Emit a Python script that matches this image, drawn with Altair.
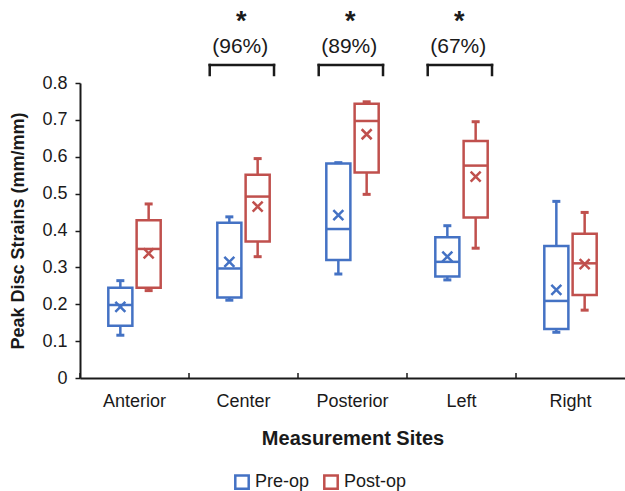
import altair as alt
import pandas as pd

sites = ["Anterior", "Center", "Posterior", "Left", "Right"]
groups = ["Pre-op", "Post-op"]

pre_min = [0.116, 0.211, 0.282, 0.266, 0.124]
pre_q1 = [0.142, 0.218, 0.320, 0.275, 0.133]
pre_med = [0.198, 0.297, 0.404, 0.315, 0.209]
pre_q3 = [0.245, 0.421, 0.582, 0.382, 0.358]
pre_max = [0.264, 0.437, 0.584, 0.413, 0.479]
pre_mean = [0.193, 0.315, 0.442, 0.329, 0.239]

post_min = [0.237, 0.329, 0.498, 0.352, 0.184]
post_q1 = [0.245, 0.370, 0.557, 0.435, 0.225]
post_med = [0.350, 0.492, 0.697, 0.576, 0.311]
post_q3 = [0.428, 0.551, 0.744, 0.643, 0.391]
post_max = [0.472, 0.595, 0.749, 0.695, 0.449]
post_mean = [0.338, 0.465, 0.661, 0.546, 0.309]

y_ticks = [0, 0.1, 0.2, 0.3, 0.4, 0.5, 0.6, 0.7, 0.8]

sig_sites = ["Center", "Posterior", "Left"]
sig_labels = ["(96%)", "(89%)", "(67%)"]
sig_marks = ["*", "*", "*"]

BLUE = "#4472C4"
RED = "#C0504D"
INK = "#1a1a1a"
FONT = "Liberation Sans"

rows = []
for i, s in enumerate(sites):
    rows.append(dict(site=s, group="Pre-op", lo=pre_min[i], q1=pre_q1[i], med=pre_med[i],
                     q3=pre_q3[i], hi=pre_max[i], mean=pre_mean[i]))
    rows.append(dict(site=s, group="Post-op", lo=post_min[i], q1=post_q1[i], med=post_med[i],
                     q3=post_q3[i], hi=post_max[i], mean=post_mean[i]))
df = pd.DataFrame(rows)
sig = pd.DataFrame(dict(site=sig_sites, label=sig_labels, star=sig_marks))
cats = pd.DataFrame(dict(site=sites))

xscale = alt.Scale(domain=sites, paddingInner=0, paddingOuter=0)
off = alt.XOffset("group:N", scale=alt.Scale(domain=groups, paddingInner=0.15, paddingOuter=1))
yscale = alt.Scale(domain=[0, 0.8], nice=False)
gscale = alt.Scale(domain=groups, range=[BLUE, RED])

legend = alt.Legend(title=None, orient="none", legendX=153, legendY=390,
                    direction="horizontal", symbolType="square", symbolSize=180,
                    symbolStrokeWidth=2.5, symbolFillColor="white",
                    labelFont=FONT, labelFontSize=18, labelColor=INK,
                    labelOffset=4, columnPadding=9)
stroke = alt.Stroke("group:N", scale=gscale, legend=legend)

xaxis = alt.Axis(title="Measurement Sites", ticks=False, tickSize=0, labelAngle=0,
                 labelFont=FONT, labelFontSize=18, labelColor=INK, labelPadding=14,
                 domainColor=INK, domainWidth=2,
                 titleFont=FONT, titleFontSize=20, titleFontWeight="bold", titleColor=INK,
                 titleX=272.5, titleY=60, titleBaseline="middle")
yaxis = alt.Axis(title="Peak Disc Strains (mm/mm)", values=y_ticks, labelOverlap=False,
                 labelExpr="datum.value == 0 ? '0' : format(datum.value, '.1f')",
                 grid=False, tickSize=5, tickColor=INK, tickWidth=1.5, domainColor=INK, domainWidth=2,
                 labelFont=FONT, labelFontSize=18, labelColor=INK, labelPadding=8,
                 titleFont=FONT, titleFontSize=18, titleFontWeight="bold", titleColor=INK,
                 titleX=-62, titleY=147.5, titleBaseline="middle")

HLINE = "M-1,0L1,0"
XMARK = "M-1,-1L1,1M-1,1L1,-1"


def X(**kw):
    return alt.X("site:N", scale=xscale, sort=sites, axis=xaxis, **kw)


def Y(field):
    return alt.Y(field, scale=yscale, axis=yaxis)


base = alt.Chart(df)

whisk_lo = base.mark_rule(strokeWidth=2.5).encode(
    x=X(), xOffset=off, y=Y("lo:Q"), y2="q1:Q", stroke=stroke)
whisk_hi = base.mark_rule(strokeWidth=2.5).encode(
    x=X(), xOffset=off, y=Y("q3:Q"), y2="hi:Q", stroke=stroke)

box = base.mark_bar(filled=False, strokeWidth=2.5).encode(
    x=X(), xOffset=off, y=Y("q1:Q"), y2="q3:Q", stroke=stroke)

med = base.mark_point(shape=HLINE, filled=False, size=576, strokeWidth=2.5, opacity=1).encode(
    x=X(), xOffset=off, y=Y("med:Q"), stroke=stroke)

cap_lo = base.mark_point(shape=HLINE, filled=False, size=64, strokeWidth=3, opacity=1).encode(
    x=X(), xOffset=off, y=Y("lo:Q"), stroke=stroke)
cap_hi = base.mark_point(shape=HLINE, filled=False, size=64, strokeWidth=3, opacity=1).encode(
    x=X(), xOffset=off, y=Y("hi:Q"), stroke=stroke)

mean = base.mark_point(shape=XMARK, filled=False, size=100, strokeWidth=2.5, opacity=1).encode(
    x=X(), xOffset=off, y=Y("mean:Q"), stroke=stroke)

ticks = alt.Chart(cats).mark_rule(color=INK, strokeWidth=1.5).encode(
    x=X(bandPosition=0), y=alt.value(295), y2=alt.value(290))

sbase = alt.Chart(sig)
br_h = sbase.mark_rule(color=INK, strokeWidth=2.5, strokeCap="square").encode(
    x=X(bandPosition=0.19), x2=alt.X2("site", bandPosition=0.78), y=alt.value(-18))
br_l = sbase.mark_rule(color=INK, strokeWidth=2.5, strokeCap="square").encode(
    x=X(bandPosition=0.19), y=alt.value(-18), y2=alt.value(-8))
br_r = sbase.mark_rule(color=INK, strokeWidth=2.5, strokeCap="square").encode(
    x=X(bandPosition=0.78), y=alt.value(-18), y2=alt.value(-8))
pct = sbase.mark_text(font=FONT, fontSize=21, color=INK, baseline="middle").encode(
    x=X(bandPosition=0.47), y=alt.value(-36), text="label:N")
star = sbase.mark_text(font=FONT, fontSize=27, fontWeight="bold", color=INK, baseline="middle").encode(
    x=X(bandPosition=0.48), y=alt.value(-61), text="star:N")

chart = alt.layer(box, whisk_lo, whisk_hi, med, cap_lo, cap_hi, mean, ticks,
                  br_h, br_l, br_r, pct, star).properties(
    width=545, height=295,
    autosize=alt.AutoSizeParams(type="none"),
    padding={"left": 80, "top": 83, "right": 0, "bottom": 113},
    background="white",
).configure_view(stroke=None)

chart.save("out.html", embed_options={"renderer": "svg", "actions": False})
